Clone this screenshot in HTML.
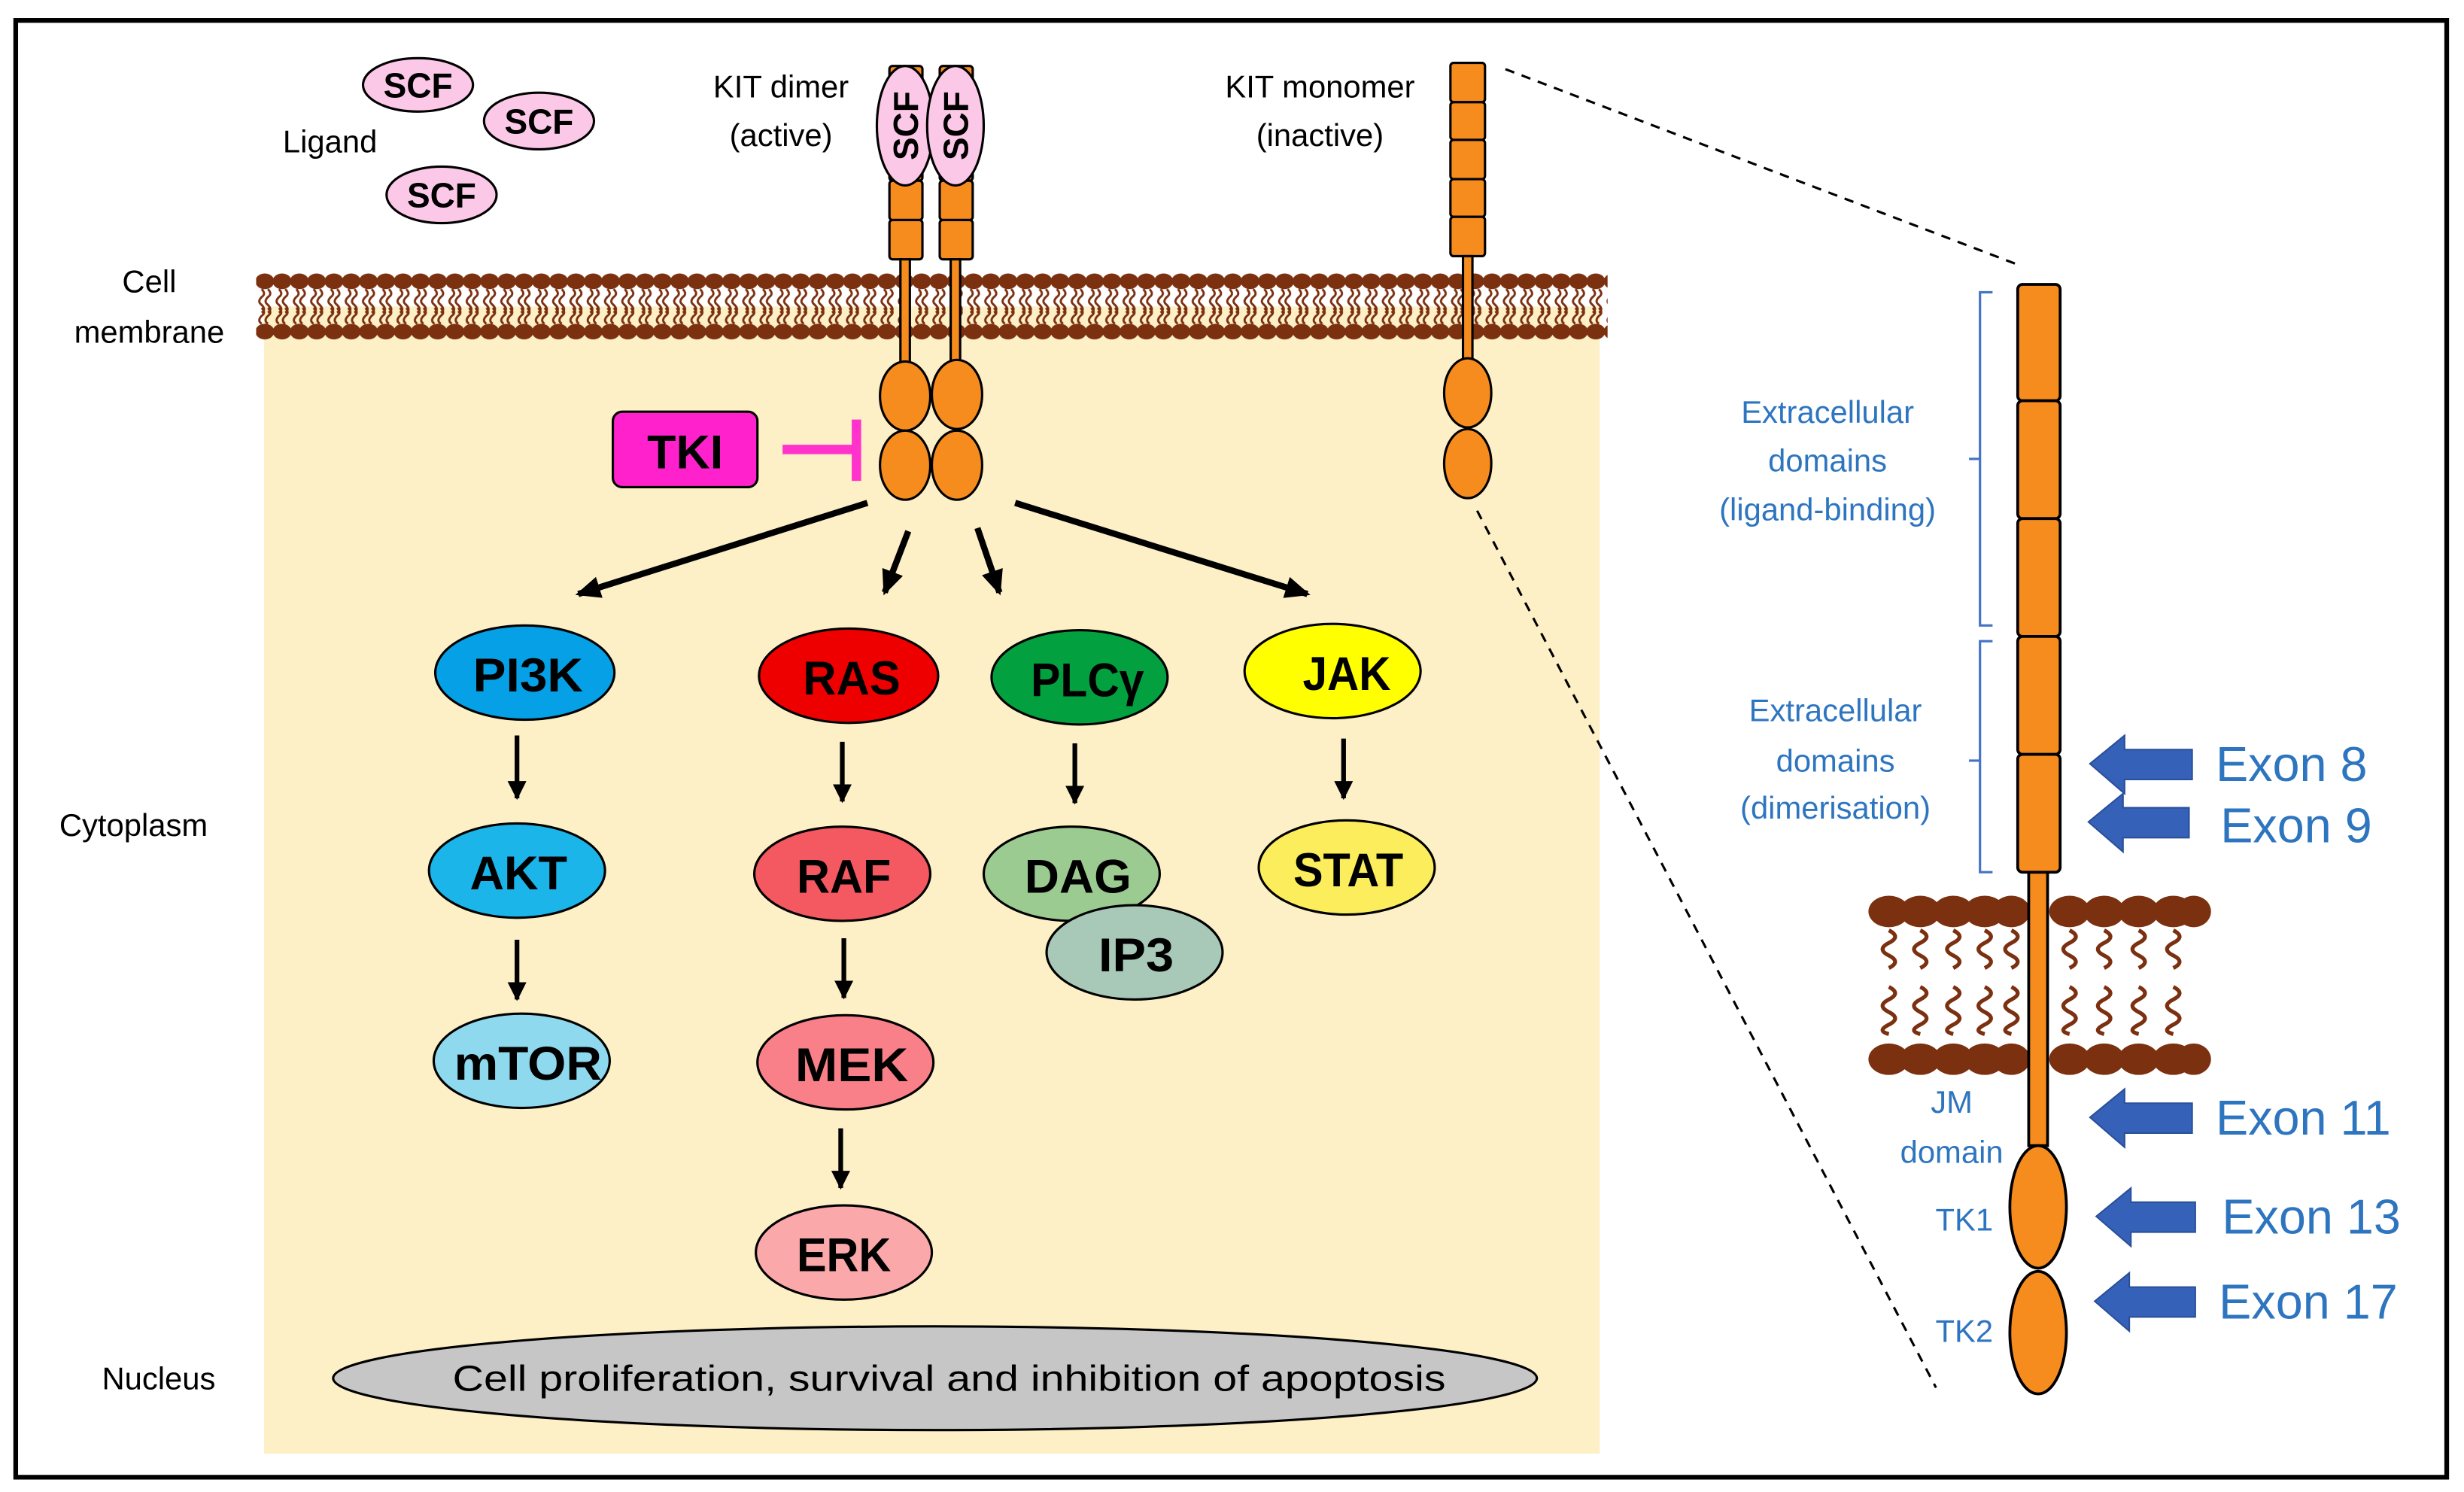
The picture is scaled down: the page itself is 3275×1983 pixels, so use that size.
<!DOCTYPE html>
<html><head><meta charset="utf-8"><style>html,body{margin:0;padding:0;background:#fff}svg{display:block}</style></head><body>
<svg width="3275" height="1983" viewBox="0 0 1568 949.4" preserveAspectRatio="none" xmlns="http://www.w3.org/2000/svg" font-family="Liberation Sans, sans-serif">
<defs>
<pattern id="mem" x="163" y="172" width="11" height="46" patternUnits="userSpaceOnUse">
<ellipse cx="5.5" cy="7" rx="6" ry="5" fill="#7b3010"/>
<ellipse cx="5.5" cy="39" rx="6" ry="5" fill="#7b3010"/>
<path d="M3.5,12 q3,3 0,5 q-3,3 0,5 q3,3 0,5 M7.5,12 q3,3 0,5 q-3,3 0,5 q3,3 0,5 M3.5,24 q3,3 0,5 q-3,3 0,5 M7.5,24 q3,3 0,5 q-3,3 0,5" stroke="#7b3010" stroke-width="1.4" fill="none"/>
</pattern>
<marker id="ah" markerWidth="16" markerHeight="14" refX="14" refY="7" orient="auto" markerUnits="userSpaceOnUse"><path d="M0,0 L16,7 L0,14 z" fill="#000"/></marker>
<marker id="ah2" markerWidth="12" markerHeight="12" refX="11" refY="6" orient="auto" markerUnits="userSpaceOnUse"><path d="M0,0 L12,6 L0,12 z" fill="#000"/></marker>
</defs>
<rect x="10" y="13" width="1547" height="927" fill="#fff" stroke="#000" stroke-width="3"/>
<rect x="168" y="195" width="850" height="730" fill="#fdefc6"/>
<rect x="163" y="172" width="860" height="46" fill="url(#mem)"/>

<g font-size="20" fill="#000" text-anchor="middle">
<text x="95" y="186">Cell</text><text x="95" y="218">membrane</text>
<text x="85" y="532">Cytoplasm</text><text x="101" y="884">Nucleus</text>
<text x="210" y="97">Ligand</text>
<text x="497" y="62">KIT dimer</text><text x="497" y="93">(active)</text>
<text x="840" y="62">KIT monomer</text><text x="840" y="93">(inactive)</text>
</g>

<g fill="#fcc8e8" stroke="#000" stroke-width="1.5">
<ellipse cx="266" cy="54" rx="35" ry="17"/><ellipse cx="343" cy="77" rx="35" ry="18"/><ellipse cx="281" cy="124" rx="35" ry="18"/>
</g>
<g font-size="22" font-weight="bold" text-anchor="middle">
<text x="266" y="62">SCF</text><text x="343" y="85">SCF</text><text x="281" y="132">SCF</text>
</g>

<g fill="#f78c1e" stroke="#000" stroke-width="1.5">
<rect x="566" y="42" width="21" height="73" rx="2"/><rect x="566" y="115" width="21" height="25" rx="2"/><rect x="566" y="140" width="21" height="25" rx="2"/>
<rect x="598" y="42" width="21" height="73" rx="2"/><rect x="598" y="115" width="21" height="25" rx="2"/><rect x="598" y="140" width="21" height="25" rx="2"/>
<rect x="573" y="165" width="6" height="68"/><rect x="605" y="165" width="6" height="68"/>
<ellipse cx="576" cy="252" rx="16" ry="22"/><ellipse cx="576" cy="296" rx="16" ry="22"/>
<ellipse cx="609" cy="251" rx="16" ry="22"/><ellipse cx="609" cy="296" rx="16" ry="22"/>
</g>
<g fill="#fcc8e8" stroke="#000" stroke-width="1.5">
<ellipse cx="576" cy="80" rx="18" ry="38"/><ellipse cx="608" cy="80" rx="18" ry="38"/>
</g>
<g font-size="22" font-weight="bold" text-anchor="middle">
<text transform="translate(584,80) rotate(-90)">SCF</text>
<text transform="translate(616,80) rotate(-90)">SCF</text>
</g>

<g fill="#f78c1e" stroke="#000" stroke-width="1.5">
<rect x="923" y="40" width="22" height="25" rx="2"/><rect x="923" y="65" width="22" height="24" rx="2"/><rect x="923" y="89" width="22" height="25" rx="2"/><rect x="923" y="114" width="22" height="24" rx="2"/><rect x="923" y="138" width="22" height="25" rx="2"/>
<rect x="931" y="163" width="6" height="68"/>
<ellipse cx="934" cy="250" rx="15" ry="22"/><ellipse cx="934" cy="295" rx="15" ry="22"/>
</g>

<rect x="390" y="262" width="92" height="48" rx="6" fill="#ff22cc" stroke="#000" stroke-width="1.5"/>
<text x="436" y="298" font-size="30" font-weight="bold" text-anchor="middle">TKI</text>
<path d="M498,286 H545 M545,267 V306" stroke="#ff33cc" stroke-width="6" fill="none"/>

<g stroke="#000" stroke-width="4" marker-end="url(#ah)">
<line x1="552" y1="320" x2="368" y2="378"/>
<line x1="578" y1="338" x2="563" y2="377"/>
<line x1="622" y1="336" x2="636" y2="377"/>
<line x1="646" y1="320" x2="832" y2="378"/>
</g>
<g stroke="#000" stroke-width="3" marker-end="url(#ah2)">
<line x1="329" y1="468" x2="329" y2="508"/><line x1="329" y1="598" x2="329" y2="636"/>
<line x1="536" y1="472" x2="536" y2="510"/><line x1="537" y1="597" x2="537" y2="635"/><line x1="535" y1="718" x2="535" y2="756"/>
<line x1="684" y1="473" x2="684" y2="511"/><line x1="855" y1="470" x2="855" y2="508"/>
</g>

<g stroke="#000" stroke-width="1.5">
<ellipse cx="334" cy="428" rx="57" ry="30" fill="#05a0e5"/>
<ellipse cx="329" cy="554" rx="56" ry="30" fill="#1bb5ea"/>
<ellipse cx="332" cy="675" rx="56" ry="30" fill="#8ed9ee"/>
<ellipse cx="540" cy="430" rx="57" ry="30" fill="#ee0000"/>
<ellipse cx="536" cy="556" rx="56" ry="30" fill="#f45860"/>
<ellipse cx="538" cy="676" rx="56" ry="30" fill="#f98088"/>
<ellipse cx="537" cy="797" rx="56" ry="30" fill="#fba8aa"/>
<ellipse cx="687" cy="431" rx="56" ry="30" fill="#03a040"/>
<ellipse cx="682" cy="556" rx="56" ry="30" fill="#9ccb92"/>
<ellipse cx="722" cy="606" rx="56" ry="30" fill="#a8c8b8"/>
<ellipse cx="848" cy="427" rx="56" ry="30" fill="#ffff00"/>
<ellipse cx="857" cy="552" rx="56" ry="30" fill="#fbed5c"/>
<ellipse cx="595" cy="877" rx="383" ry="33" fill="#c6c6c6"/>
</g>
<g font-size="30" font-weight="bold" text-anchor="middle">
<text x="336" y="440" textLength="70" lengthAdjust="spacingAndGlyphs">PI3K</text>
<text x="330" y="566" textLength="62" lengthAdjust="spacingAndGlyphs">AKT</text>
<text x="336" y="687" textLength="94" lengthAdjust="spacingAndGlyphs">mTOR</text>
<text x="542" y="442" textLength="62" lengthAdjust="spacingAndGlyphs">RAS</text>
<text x="537" y="568" textLength="60" lengthAdjust="spacingAndGlyphs">RAF</text>
<text x="542" y="688" textLength="72" lengthAdjust="spacingAndGlyphs">MEK</text>
<text x="537" y="809" textLength="60" lengthAdjust="spacingAndGlyphs">ERK</text>
<text x="692" y="443" textLength="72" lengthAdjust="spacingAndGlyphs">PLCγ</text>
<text x="686" y="568" textLength="68" lengthAdjust="spacingAndGlyphs">DAG</text>
<text x="723" y="618" textLength="48" lengthAdjust="spacingAndGlyphs">IP3</text>
<text x="857" y="439" textLength="56" lengthAdjust="spacingAndGlyphs">JAK</text>
<text x="858" y="564" textLength="70" lengthAdjust="spacingAndGlyphs">STAT</text>
</g>
<text x="604" y="885" font-size="23" text-anchor="middle" textLength="632" lengthAdjust="spacingAndGlyphs">Cell proliferation, survival and inhibition of apoptosis</text>

<g stroke="#000" stroke-width="1.5" stroke-dasharray="6,5">
<line x1="958" y1="44" x2="1283" y2="168"/><line x1="940" y1="325" x2="1232" y2="883"/>
</g>

<g fill="#7b3010">
<ellipse cx="1202" cy="580" rx="13" ry="10"/><ellipse cx="1222" cy="580" rx="13" ry="10"/><ellipse cx="1243" cy="580" rx="13" ry="10"/><ellipse cx="1263" cy="580" rx="13" ry="10"/><ellipse cx="1280" cy="580" rx="12" ry="10"/>
<ellipse cx="1317" cy="580" rx="13" ry="10"/><ellipse cx="1339" cy="580" rx="13" ry="10"/><ellipse cx="1361" cy="580" rx="13" ry="10"/><ellipse cx="1383" cy="580" rx="13" ry="10"/><ellipse cx="1396" cy="580" rx="11" ry="10"/>
<ellipse cx="1202" cy="674" rx="13" ry="10"/><ellipse cx="1222" cy="674" rx="13" ry="10"/><ellipse cx="1243" cy="674" rx="13" ry="10"/><ellipse cx="1263" cy="674" rx="13" ry="10"/><ellipse cx="1280" cy="674" rx="12" ry="10"/>
<ellipse cx="1317" cy="674" rx="13" ry="10"/><ellipse cx="1339" cy="674" rx="13" ry="10"/><ellipse cx="1361" cy="674" rx="13" ry="10"/><ellipse cx="1383" cy="674" rx="13" ry="10"/><ellipse cx="1396" cy="674" rx="11" ry="10"/>
</g>
<g stroke="#7b3010" stroke-width="2.5" fill="none">
<path id="sq" d="M1202,592 q8,4 0,8 q-8,4 0,8 q8,4 0,8 M1202,628 q8,4 0,8 q-8,4 0,8 q8,4 0,8 q-8,4 0,6"/>
<use href="#sq" x="20"/><use href="#sq" x="41"/><use href="#sq" x="61"/><use href="#sq" x="78"/>
<use href="#sq" x="115"/><use href="#sq" x="137"/><use href="#sq" x="159"/><use href="#sq" x="181"/>
</g>

<g fill="#f78c1e" stroke="#000" stroke-width="1.8">
<rect x="1291" y="555" width="12" height="174"/>
<rect x="1284" y="181" width="27" height="74" rx="3"/><rect x="1284" y="255" width="27" height="75" rx="3"/><rect x="1284" y="330" width="27" height="75" rx="3"/><rect x="1284" y="405" width="27" height="75" rx="3"/><rect x="1284" y="480" width="27" height="75" rx="3"/>
<ellipse cx="1297" cy="768" rx="18" ry="39"/><ellipse cx="1297" cy="848" rx="18" ry="39"/>
</g>
<g stroke="#4472c4" stroke-width="1.5" fill="none">
<path d="M1268,186 H1260 V398 H1268 M1260,292 H1253"/>
<path d="M1268,408 H1260 V555 H1268 M1260,484 H1253"/>
</g>
<g fill="#2e75c0" font-size="20" text-anchor="middle">
<text x="1163" y="269">Extracellular</text><text x="1163" y="300">domains</text><text x="1163" y="331">(ligand-binding)</text>
<text x="1168" y="459">Extracellular</text><text x="1168" y="491">domains</text><text x="1168" y="521">(dimerisation)</text>
<text x="1242" y="708">JM</text><text x="1242" y="740">domain</text>
<text x="1250" y="783">TK1</text><text x="1250" y="854">TK2</text>
</g>
<g fill="#3562b8" stroke="#2a4f99" stroke-width="1">
<path d="M1330,486 L1352,468 V477 H1395 V496 H1352 V505 Z"/>
<path d="M1329,523 L1351,505 V514 H1393 V533 H1351 V542 Z"/>
<path d="M1330,711 L1352,693 V702 H1395 V721 H1352 V730 Z"/>
<path d="M1334,774 L1356,756 V765 H1397 V784 H1356 V793 Z"/>
<path d="M1333,828 L1355,810 V819 H1397 V838 H1355 V847 Z"/>
</g>
<g fill="#2e75c0" font-size="31">
<text x="1410" y="497">Exon 8</text><text x="1413" y="536">Exon 9</text>
<text x="1410" y="722">Exon 11</text><text x="1414" y="785">Exon 13</text><text x="1412" y="839">Exon 17</text>
</g>
</svg>
</body></html>
